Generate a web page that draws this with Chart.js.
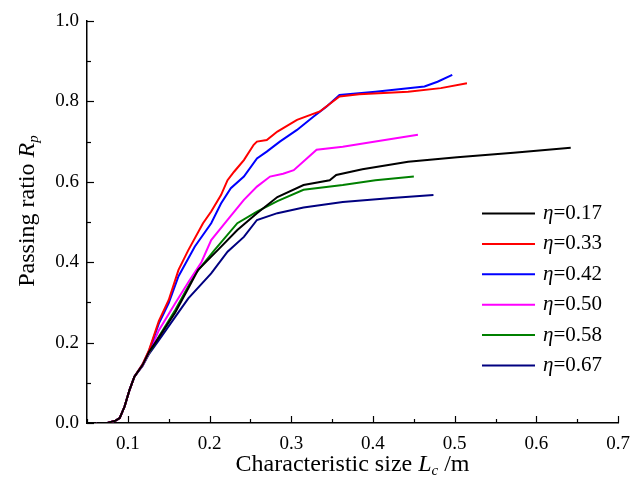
<!DOCTYPE html>
<html>
<head>
<meta charset="utf-8">
<script src="https://cdn.jsdelivr.net/npm/chart.js@4.4.1/dist/chart.umd.min.js"></script>
<style>
  html, body { margin:0; padding:0; background:#fff; }
  #wrap { width:640px; height:488px; position:relative; }
</style>
</head>
<body>
<div id="wrap"><canvas id="c"></canvas></div>
<script>
// ── data ─────────────────────────────────────────────────
const ETA = ['0.17', '0.33', '0.42', '0.50', '0.58', '0.67'];
const COLORS = ['#000000', '#ff0000', '#0000ff', '#ff00ff', '#008000', '#000080'];

const X_017 = [0.062,0.075,0.085,0.090,0.096,0.102,0.108,0.118,0.126,0.138,0.158,0.174,0.186,0.210,0.234,0.258,0.283,0.315,0.347,0.355,0.387,0.443,0.503,0.572,0.642];
const Y_017 = [0,0,0.006,0.012,0.041,0.082,0.115,0.144,0.177,0.213,0.275,0.335,0.381,0.430,0.480,0.522,0.562,0.592,0.604,0.617,0.631,0.650,0.661,0.672,0.685];

const X_033 = [0.062,0.075,0.085,0.090,0.096,0.102,0.108,0.118,0.126,0.138,0.150,0.162,0.174,0.192,0.202,0.214,0.222,0.230,0.242,0.254,0.258,0.270,0.283,0.307,0.335,0.359,0.383,0.443,0.483,0.515];
const Y_033 = [0,0,0.006,0.012,0.041,0.082,0.115,0.146,0.182,0.254,0.306,0.381,0.430,0.497,0.526,0.567,0.604,0.625,0.654,0.692,0.700,0.704,0.725,0.754,0.775,0.812,0.818,0.824,0.833,0.845];

const X_042 = [0.062,0.075,0.085,0.090,0.096,0.102,0.108,0.118,0.126,0.138,0.150,0.162,0.182,0.202,0.214,0.226,0.242,0.258,0.270,0.286,0.307,0.327,0.343,0.359,0.403,0.463,0.479,0.497];
const Y_042 = [0,0,0.006,0.012,0.041,0.082,0.115,0.146,0.180,0.248,0.298,0.365,0.439,0.497,0.546,0.584,0.613,0.658,0.675,0.700,0.729,0.762,0.787,0.816,0.824,0.837,0.849,0.866];

const X_050 = [0.062,0.075,0.085,0.090,0.096,0.102,0.108,0.118,0.126,0.138,0.158,0.174,0.190,0.202,0.222,0.242,0.258,0.274,0.290,0.303,0.319,0.331,0.363,0.403,0.455];
const Y_050 = [0,0,0.006,0.012,0.041,0.082,0.115,0.143,0.175,0.231,0.298,0.350,0.400,0.455,0.505,0.555,0.588,0.613,0.620,0.629,0.658,0.680,0.687,0.700,0.717];

const X_058 = [0.062,0.075,0.085,0.090,0.096,0.102,0.108,0.118,0.126,0.138,0.158,0.182,0.206,0.234,0.258,0.283,0.315,0.363,0.403,0.450];
const Y_058 = [0,0,0.006,0.012,0.041,0.082,0.115,0.143,0.174,0.215,0.281,0.370,0.430,0.497,0.526,0.552,0.580,0.592,0.604,0.613];

const X_067 = [0.062,0.075,0.085,0.090,0.096,0.102,0.108,0.118,0.126,0.138,0.158,0.174,0.202,0.222,0.242,0.258,0.283,0.315,0.363,0.423,0.474];
const Y_067 = [0,0,0.006,0.012,0.041,0.082,0.115,0.142,0.172,0.206,0.264,0.310,0.372,0.426,0.463,0.505,0.522,0.536,0.550,0.560,0.567];

const SERIES_X = [X_017, X_033, X_042, X_050, X_058, X_067];
const SERIES_Y = [Y_017, Y_033, Y_042, Y_050, Y_058, Y_067];

const FONT = '"Liberation Serif", "Times New Roman", serif';

// inward tick marks, axis titles and the legend
const decor = {
  id: 'decor',
  afterDraw(chart) {
    const { ctx, chartArea: a, scales: { x, y } } = chart;
    ctx.save();
    ctx.strokeStyle = '#000';
    ctx.lineWidth = 1.2;
    x.ticks.forEach(t => {
      const major = Math.round(t.value * 20) % 2 === 0;
      const px = Math.round(x.getPixelForValue(t.value)) + 0.5;
      ctx.beginPath(); ctx.moveTo(px, a.bottom); ctx.lineTo(px, a.bottom - (major ? 7 : 4)); ctx.stroke();
    });
    y.ticks.forEach(t => {
      const major = Math.round(t.value * 10) % 2 === 0;
      const py = Math.round(y.getPixelForValue(t.value)) + 0.5;
      ctx.beginPath(); ctx.moveTo(a.left, py); ctx.lineTo(a.left + (major ? 7 : 4), py); ctx.stroke();
    });

    ctx.fillStyle = '#000';
    ctx.textBaseline = 'alphabetic';

    // x title: Characteristic size L_c /m
    const big = '24px ' + FONT, bigI = 'italic 24px ' + FONT, subI = 'italic 15px ' + FONT;
    const xParts = [['Characteristic size ', big, 0], ['L', bigI, 0], ['c', subI, 4], [' /m', big, 0]];
    drawParts(ctx, xParts, (a.left + a.right) / 2, 471);

    // y title: Passing ratio R_p (rotated)
    const yParts = [['Passing ratio ', big, 0], ['R', bigI, 0], ['p', subI, 4]];
    ctx.save();
    ctx.translate(34, 211);
    ctx.rotate(-Math.PI / 2);
    drawParts(ctx, yParts, 0, 0);
    ctx.restore();

    // legend
    chart.data.datasets.forEach((ds, i) => {
      const ly = 213.5 + i * 30.4;
      ctx.strokeStyle = ds.borderColor;
      ctx.lineWidth = 2;
      ctx.beginPath(); ctx.moveTo(482, ly); ctx.lineTo(535, ly); ctx.stroke();
      ctx.textBaseline = 'middle';
      ctx.font = 'italic 21px ' + FONT;
      ctx.fillText('η', 543, ly);
      const w = ctx.measureText('η').width;
      ctx.font = '21px ' + FONT;
      ctx.fillText('=' + ETA[i], 543 + w, ly);
    });
    ctx.restore();
  }
};

function drawParts(ctx, parts, cx, cy) {
  let total = 0;
  parts.forEach(p => { ctx.font = p[1]; total += ctx.measureText(p[0]).width; });
  let xx = cx - total / 2;
  ctx.textAlign = 'left';
  parts.forEach(p => {
    ctx.font = p[1];
    ctx.fillText(p[0], xx, cy + p[2]);
    xx += ctx.measureText(p[0]).width;
  });
}

new Chart(document.getElementById('c'), {
  type: 'line',
  data: {
    datasets: ETA.map((e, i) => ({
      label: 'η=' + e,
      data: SERIES_X[i].map((v, k) => ({ x: v, y: SERIES_Y[i][k] })),
      borderColor: COLORS[i],
      borderWidth: 2,
      pointRadius: 0,
      tension: 0,
      fill: false
    }))
  },
  options: {
    responsive: true,
    maintainAspectRatio: false,
    animation: false,
    layout: { padding: { top: 21, right: 13, left: 0, bottom: 0 } },
    plugins: { legend: { display: false }, tooltip: { enabled: false } },
    scales: {
      x: {
        type: 'linear', min: 0.05, max: 0.7,
        grid: { display: false, drawTicks: false },
        border: { display: true, color: '#000', width: 1.5 },
        ticks: {
          stepSize: 0.05, autoSkip: false, maxRotation: 0, padding: 10,
          color: '#000', font: { family: FONT, size: 19 },
          callback: v => { const r = Math.round(v * 20); return r % 2 === 0 ? (r / 20).toFixed(1) : ''; }
        },
        afterFit: s => { s.height = 65; }
      },
      y: {
        min: 0, max: 1,
        grid: { display: false, drawTicks: false },
        border: { display: true, color: '#000', width: 1.5 },
        ticks: {
          stepSize: 0.1, autoSkip: false, padding: 8,
          color: '#000', font: { family: FONT, size: 19 },
          callback: v => { const r = Math.round(v * 10); return r % 2 === 0 ? (r / 10).toFixed(1) : ''; }
        },
        afterFit: s => { s.width = 87; }
      }
    }
  },
  plugins: [decor]
});
</script>
</body>
</html>
